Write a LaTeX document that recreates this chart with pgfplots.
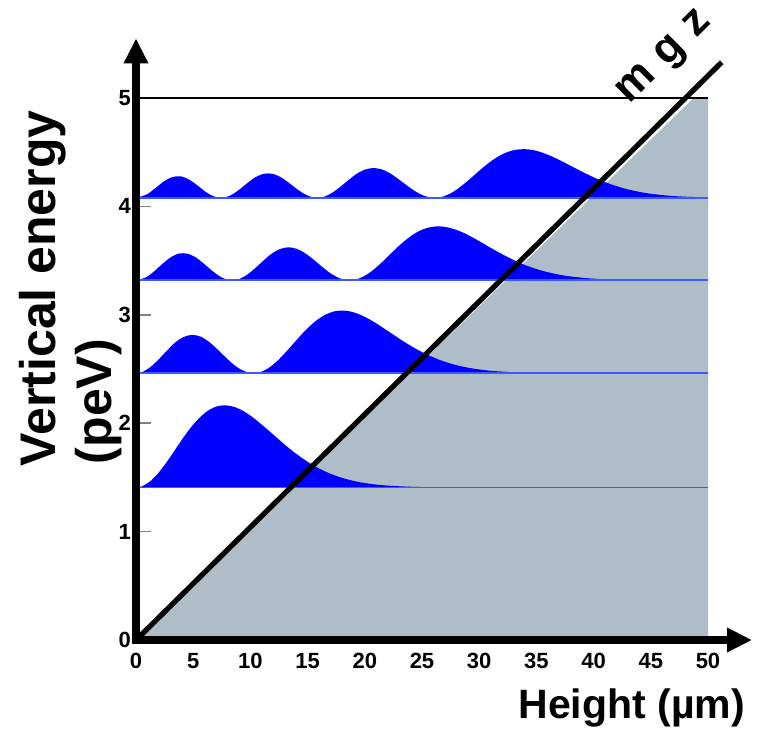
\documentclass[border=0pt]{standalone}
\usepackage{fontspec}
\setmainfont{Liberation Sans}
\usepackage{pgfplots}
\pgfplotsset{compat=1.18}
\usetikzlibrary{arrows.meta}
\definecolor{potgray}{RGB}{175,189,200}
\definecolor{wfblue}{RGB}{0,0,255}
\definecolor{baseblue}{RGB}{60,90,255}
\begin{document}
\begin{tikzpicture}
\begin{axis}[
  scale only axis, width=286pt, height=271pt,
  xmin=0, xmax=50, ymin=0, ymax=5,
  clip=false,
  axis line style={draw=none},
  xtick={0,5,...,50}, ytick={0,1,...,5},
  xtick pos=left, ytick pos=left,
  xtick style={draw=none},
  ytick style={draw=gray, line width=0.8pt},
  tick align=inside,
  major tick length=7.5pt,
  tick label style={font=\fontsize{11}{13}\selectfont\bfseries},
  /pgf/number format/assume math mode=true,
  xticklabel style={yshift=-3pt},
  yticklabel style={xshift=1pt},
]
% potential region
\addplot[fill=potgray, draw=none] coordinates {(0,0) (48.73,5) (50,5) (50,0)} -- cycle;
\addplot[black, line width=0.7pt] coordinates {(0,5) (50,5)};
% level 1
\addplot[fill=wfblue, draw=none, smooth] coordinates {
(0,1.407) (0.517,1.417) (1.250,1.465) (1.984,1.544) (2.718,1.646) (3.452,1.760) (4.185,1.874) (4.919,1.977) (5.653,2.061) (6.387,2.122) (7.121,2.157) (7.854,2.165) (8.588,2.150) (9.322,2.116) (10.056,2.066) (10.789,2.005) (11.523,1.939) (12.257,1.871) (12.991,1.803) (13.724,1.740) (14.458,1.683) (15.192,1.631) (15.926,1.587) (16.659,1.549) (17.393,1.518) (18.127,1.492) (18.861,1.472) (19.594,1.455) (20.328,1.443) (21.062,1.433) (21.796,1.426) (22.529,1.421) (23.263,1.417) (23.997,1.414) (25.464,1.410) (26.932,1.4085) (28.399,1.4077) (31.334,1.4071) (50,1.407)
} -- cycle;
% level 2
\addplot[fill=wfblue, draw=none, smooth] coordinates {
(0,2.461) (0.517,2.471) (1.250,2.517) (1.984,2.589) (2.718,2.671) (3.452,2.747) (4.185,2.796) (4.919,2.815) (5.653,2.798) (6.387,2.750) (7.121,2.681) (7.854,2.606) (8.588,2.536) (9.322,2.487) (10.056,2.462) (10.789,2.469) (11.523,2.505) (12.257,2.565) (12.991,2.644) (13.724,2.730) (14.458,2.817) (15.192,2.896) (15.926,2.960) (16.659,3.006) (17.393,3.033) (18.127,3.039) (18.861,3.028) (19.594,3.001) (20.328,2.963) (21.062,2.917) (21.796,2.866) (22.529,2.814) (23.263,2.763) (23.997,2.715) (24.731,2.671) (25.464,2.632) (26.198,2.598) (26.932,2.569) (27.666,2.545) (28.399,2.526) (29.133,2.510) (29.867,2.498) (30.601,2.488) (31.334,2.481) (32.068,2.476) (32.802,2.471) (33.536,2.468) (34.269,2.466) (35.737,2.4635) (37.204,2.4621) (38.672,2.4615) (41.607,2.4611) (50,2.461)
} -- cycle;
% level 3
\addplot[fill=wfblue, draw=none, smooth] coordinates {
(0,3.318) (0.857,3.345) (1.591,3.401) (2.325,3.471) (3.058,3.532) (3.792,3.566) (4.526,3.563) (5.260,3.527) (5.993,3.466) (6.727,3.400) (7.461,3.346) (8.195,3.3195) (8.928,3.327) (9.662,3.366) (10.396,3.428) (11.130,3.499) (11.863,3.564) (12.597,3.607) (13.331,3.623) (14.065,3.608) (14.798,3.567) (15.532,3.508) (16.266,3.443) (17.000,3.383) (17.733,3.340) (18.467,3.319) (19.201,3.325) (19.935,3.356) (20.668,3.408) (21.402,3.475) (22.136,3.550) (22.870,3.625) (23.603,3.692) (24.337,3.748) (25.071,3.788) (25.805,3.810) (26.538,3.816) (27.272,3.806) (28.006,3.783) (28.740,3.751) (29.473,3.711) (30.207,3.667) (30.941,3.622) (31.675,3.578) (32.408,3.537) (33.142,3.499) (33.876,3.465) (34.610,3.436) (35.343,3.411) (36.077,3.391) (36.811,3.374) (37.545,3.360) (38.278,3.350) (39.012,3.342) (39.746,3.335) (40.480,3.3305) (41.213,3.327) (41.947,3.324) (42.681,3.322) (44.148,3.320) (45.616,3.319) (47.083,3.3184) (50,3.318)
} -- cycle;
% level 4
\addplot[fill=wfblue, draw=none, smooth] coordinates {
(0,4.079) (0.951,4.111) (1.685,4.168) (2.418,4.229) (3.152,4.270) (3.886,4.278) (4.620,4.249) (5.353,4.195) (6.087,4.134) (6.821,4.092) (7.555,4.0795) (8.288,4.103) (9.022,4.154) (9.756,4.217) (10.490,4.272) (11.223,4.302) (11.957,4.300) (12.691,4.267) (13.425,4.213) (14.158,4.153) (14.892,4.105) (15.626,4.080) (16.360,4.087) (17.093,4.122) (17.827,4.178) (18.561,4.242) (19.295,4.301) (20.028,4.340) (20.762,4.354) (21.496,4.341) (22.230,4.304) (22.963,4.250) (23.697,4.192) (24.431,4.138) (25.165,4.099) (25.898,4.080) (26.632,4.085) (27.366,4.113) (28.100,4.160) (28.833,4.221) (29.567,4.288) (30.301,4.356) (31.035,4.417) (31.768,4.467) (32.502,4.503) (33.236,4.523) (33.970,4.528) (34.703,4.520) (35.437,4.499) (36.171,4.469) (36.905,4.434) (37.638,4.394) (38.372,4.354) (39.106,4.314) (39.840,4.277) (40.573,4.242) (41.307,4.212) (42.041,4.186) (42.775,4.163) (43.508,4.145) (44.242,4.129) (44.976,4.117) (45.710,4.108) (46.443,4.100) (47.177,4.0945) (47.911,4.090) (48.645,4.087) (49.378,4.085) (50,4.083)
} -- cycle;
% baselines
\addplot[baseblue, line width=0.9pt] coordinates {(0,1.407) (50,1.407)};
\addplot[baseblue, line width=0.9pt] coordinates {(0,2.461) (50,2.461)};
\addplot[baseblue, line width=0.9pt] coordinates {(0,3.318) (50,3.318)};
\addplot[baseblue, line width=0.9pt] coordinates {(0,4.079) (50,4.079)};
% mgz line
\addplot[black, line width=2.6pt] coordinates {(0,0) (51.2,5.33)};
% axes
\draw[line width=4pt, -{Triangle[length=12.5pt,width=11.5pt]}] (axis cs:-0.35,0) -- (axis cs:53.85,0);
\draw[line width=4pt, -{Triangle[length=12.5pt,width=11.5pt]}] (axis cs:0,-0.037) -- (axis cs:0,5.55);
% labels
\node[rotate=44.6, inner sep=0, font=\fontsize{22}{26}\selectfont\bfseries] at (axis cs:46.35,5.36) {m\hspace{0.32em}g\hspace{0.32em}z};
\node[rotate=90, anchor=west, inner sep=0, font=\fontsize{25}{30}\selectfont\bfseries] at (axis cs:-8.2,1.6) {Vertical energy};
\node[rotate=90, anchor=west, inner sep=0, font=\fontsize{25}{30}\selectfont\bfseries] at (axis cs:-3.25,1.62) {(peV)};
\node[anchor=base west, inner sep=0, font=\fontsize{20.5}{24}\selectfont\bfseries] at (axis cs:33.4,-0.72) {Height (µm)};
\end{axis}
\pgfresetboundingbox
\useasboundingbox (-68pt,-44.5pt) rectangle (316.5pt,320pt);
\end{tikzpicture}
\end{document}
